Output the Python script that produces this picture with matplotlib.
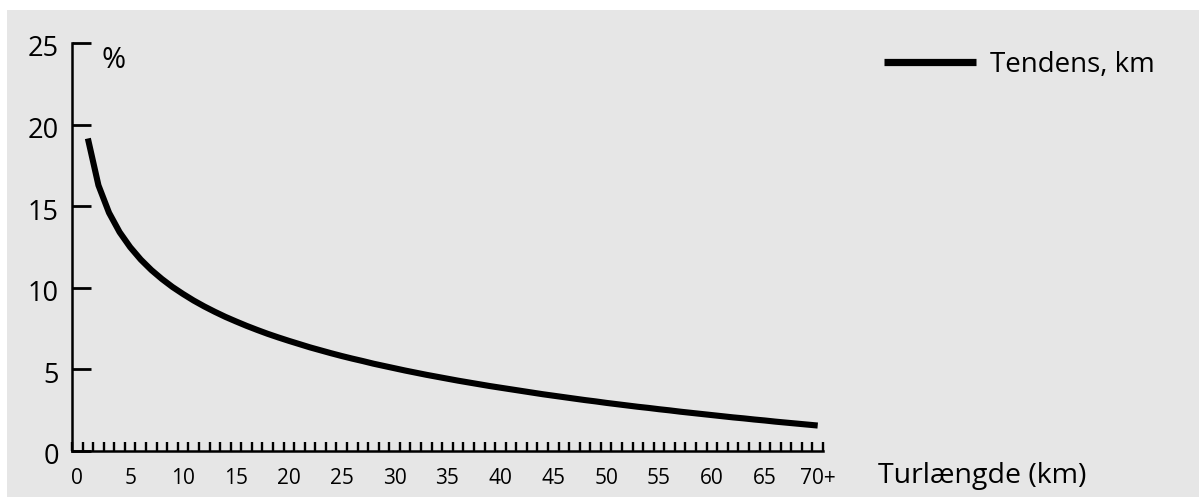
import matplotlib
matplotlib.use("Agg")
import matplotlib.pyplot as plt
from matplotlib.patches import Rectangle
from matplotlib.transforms import ScaledTranslation
import numpy as np

# ---- data ----
categories = list(range(0, 71))            # trip length categories, km (70 = "70+")
x_tick_values = list(range(0, 71, 5))
x_tick_labels = [str(v) for v in range(0, 70, 5)] + ["70+"]
y_tick_values = [0, 5, 10, 15, 20, 25]
trend_x = list(range(1, 71))
trend_y = [19.15, 16.28, 14.60, 13.41, 12.49, 11.73, 11.09, 10.54, 10.05, 9.62,
           9.22, 8.86, 8.53, 8.22, 7.94, 7.67, 7.42, 7.18, 6.96, 6.75,
           6.55, 6.35, 6.17, 5.99, 5.82, 5.66, 5.51, 5.35, 5.21, 5.07,
           4.93, 4.80, 4.67, 4.55, 4.43, 4.31, 4.20, 4.09, 3.98, 3.88,
           3.78, 3.68, 3.58, 3.48, 3.39, 3.30, 3.21, 3.12, 3.04, 2.95,
           2.87, 2.79, 2.71, 2.64, 2.56, 2.49, 2.41, 2.34, 2.27, 2.20,
           2.13, 2.06, 2.00, 1.93, 1.87, 1.80, 1.74, 1.68, 1.62, 1.56]
series_name = "Tendens, km"
x_title = "Turlængde (km)"
y_unit = "%"

plt.rcParams['font.family'] = ['Open Sans', 'DejaVu Sans']

W, H = 1199, 497
fig = plt.figure(figsize=(W / 100, H / 100), dpi=100, facecolor="white")
fig.patches.append(Rectangle((7 / W, 0), 1, 1 - 10 / H, transform=fig.transFigure,
                             facecolor="#e6e6e6", edgecolor="none", zorder=-10))

ax = fig.add_axes([72 / W, (H - 451) / H, 751 / W, 408 / H])
ax.set_facecolor("none")
line, = ax.plot(trend_x, trend_y, color="black", lw=4.4, solid_capstyle="butt",
                solid_joinstyle="round", label=series_name, clip_on=False)

ax.set_xlim(-0.5, 70.5)
ax.set_ylim(0, 25)
for s in ["top", "right"]:
    ax.spines[s].set_visible(False)
for s in ["left", "bottom"]:
    ax.spines[s].set_linewidth(1.8)
    ax.spines[s].set_color("black")

ax.set_yticks(y_tick_values)
ax.set_yticklabels([str(v) for v in y_tick_values])
ax.tick_params(axis="y", direction="in", length=14, width=2.0, pad=9.5,
               labelsize=19.5, colors="black")
offs = ScaledTranslation(0, -3 / 100, fig.dpi_scale_trans)
for lab in ax.get_yticklabels():
    lab.set_transform(lab.get_transform() + offs)

ax.set_xticks(x_tick_values)
ax.set_xticklabels(x_tick_labels)
ax.set_xticks([c - 0.5 for c in categories] + [70.5], minor=True)
ax.tick_params(axis="x", which="major", length=0, pad=12, labelsize=15, colors="black")
ax.tick_params(axis="x", which="minor", direction="in", length=6.5, width=1.7, colors="black")

fig.text(114 / W, 1 - 60 / H, y_unit, ha="center", va="center", fontsize=21)
fig.text(878 / W, (H - 483) / H, x_title, ha="left", va="baseline", fontsize=20.5)

leg = fig.legend(handles=[line], loc="center left",
                 bbox_to_anchor=(884 / W, 1 - 65 / H), bbox_transform=fig.transFigure,
                 frameon=False, fontsize=20, handlelength=3.3, handletextpad=0.5,
                 borderpad=0, borderaxespad=0)
leg.get_lines()[0].set_linewidth(5.2)

fig.savefig("out.png", dpi=100, facecolor="white")
